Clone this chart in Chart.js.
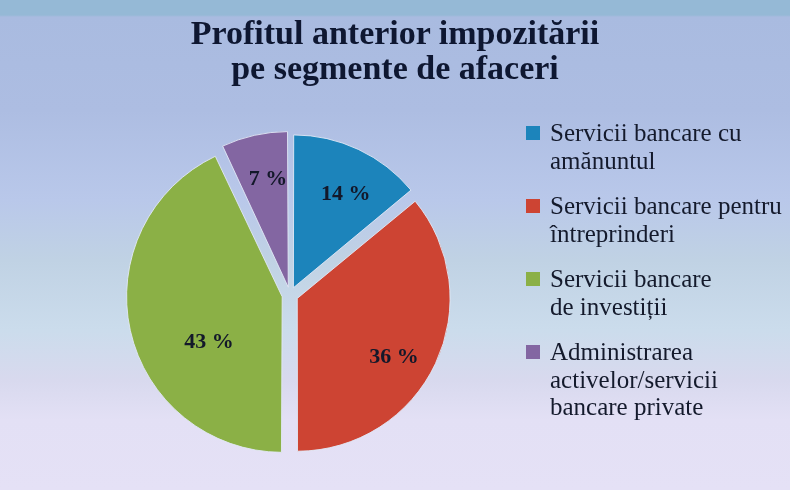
<!DOCTYPE html>
<html lang="ro">
<head>
    <meta charset="UTF-8">
    <title>Profitul anterior impozitării</title>
    <script src="https://cdn.jsdelivr.net/npm/chart.js"></script>
    <style>
        html, body {
            margin: 0;
            padding: 0;
            width: 790px;
            height: 490px;
            overflow: hidden;
        }
        body {
            position: relative;
            background: linear-gradient(to bottom,
                #95b9d6 0px, #95b9d6 15px,
                #a9bbe0 17px, #adbde2 110px,
                #b9c8ea 200px, #c0d2e4 260px,
                #cbdcec 330px, #d8d9ee 380px,
                #e3e0f5 420px, #e5e1f6 490px);
            font-family: "Liberation Serif", "DejaVu Serif", serif;
        }
        #title {
            position: absolute;
            left: 0;
            top: 15px;
            width: 790px;
            text-align: center;
            font-weight: bold;
            font-size: 34px;
            line-height: 35px;
            color: #0e1731;
        }
        #chartBox {
            position: absolute;
            left: 0;
            top: 0;
            width: 790px;
            height: 490px;
        }
        #legend {
            position: absolute;
            left: 526px;
            top: 119px;
            font-size: 25px;
            line-height: 27.5px;
            color: #141a2c;
        }
        .legend-item {
            position: relative;
            padding-left: 24px;
            margin-bottom: 18px;
        }
        .legend-box {
            position: absolute;
            left: 0;
            top: 7px;
            width: 14px;
            height: 14px;
        }
    </style>
</head>
<body>
    <div id="chartBox"><canvas id="pie" width="790" height="490"></canvas></div>
    <div id="title">Profitul anterior impozitării<br>pe segmente de afaceri</div>
    <div id="legend"></div>
    <script>
        // Data
        const labels = [
            ['Servicii bancare cu', 'amănuntul'],
            ['Servicii bancare pentru', 'întreprinderi'],
            ['Servicii bancare', 'de investiții'],
            ['Administrarea', 'activelor/servicii', 'bancare private']
        ];
        const values = [14, 36, 43, 7];
        const colors = ['#1c84bb', '#cd4433', '#8bb046', '#8366a2'];

        // label placement tweaks (radius fraction, angle shift in degrees)
        const labelPlace = [[0.71, 4], [0.75, 6], [0.57, -19], [0.73, 2]];

        // HTML legend
        const legend = document.getElementById('legend');
        labels.forEach((lines, i) => {
            const item = document.createElement('div');
            item.className = 'legend-item';
            const box = document.createElement('span');
            box.className = 'legend-box';
            box.style.background = colors[i];
            item.appendChild(box);
            const text = document.createElement('div');
            text.innerHTML = lines.join('<br>');
            item.appendChild(text);
            legend.appendChild(item);
        });

        // Percent labels inside slices
        const sliceLabels = {
            id: 'sliceLabels',
            afterDatasetsDraw(chart) {
                const ctx = chart.ctx;
                const meta = chart.getDatasetMeta(0);
                ctx.save();
                ctx.font = 'bold 22px "Liberation Serif", serif';
                ctx.fillStyle = '#13182a';
                ctx.textAlign = 'center';
                ctx.textBaseline = 'middle';
                meta.data.forEach((arc, i) => {
                    const p = arc.getProps(['x', 'y', 'startAngle', 'endAngle', 'outerRadius'], true);
                    // Chart.js arc moves a slice by offset / 4
                    const off = (arc.options.offset || 0) / 4;
                    const mid = (p.startAngle + p.endAngle) / 2;
                    const cx = p.x + Math.cos(mid) * off;
                    const cy = p.y + Math.sin(mid) * off;
                    const a = mid + labelPlace[i][1] * Math.PI / 180;
                    const r = p.outerRadius * labelPlace[i][0];
                    ctx.fillText(values[i] + ' %', cx + Math.cos(a) * r, cy + Math.sin(a) * r);
                });
                ctx.restore();
            }
        };

        new Chart(document.getElementById('pie'), {
            type: 'pie',
            data: {
                labels: labels.map(l => l.join(' ')),
                datasets: [{
                    data: values,
                    backgroundColor: colors,
                    borderColor: 'rgba(225,232,245,0.9)',
                    borderWidth: 1,
                    offset: 32,
                    radius: 151
                }]
            },
            options: {
                responsive: false,
                animation: false,
                events: [],
                layout: {
                    padding: { left: 135, right: 345, top: 140, bottom: 40 }
                },
                plugins: {
                    legend: { display: false },
                    tooltip: { enabled: false },
                    title: { display: false }
                }
            },
            plugins: [sliceLabels]
        });
    </script>
</body>
</html>
